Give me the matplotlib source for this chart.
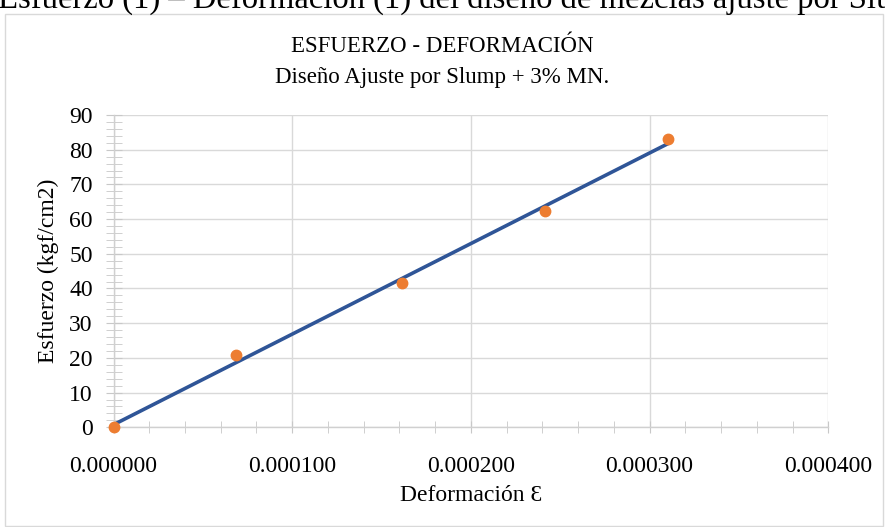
import numpy as np
import matplotlib
matplotlib.use("Agg")
import matplotlib.pyplot as plt
from matplotlib.ticker import MultipleLocator, FormatStrFormatter
from matplotlib.patches import Rectangle

# lecturas del ensayo
deformacion = [0.0, 0.0000685, 0.0001615, 0.0002417, 0.0003101]
esfuerzo = [0.0, 20.9, 41.5, 62.2, 83.2]

titulo = "ESFUERZO - DEFORMACIÓN"
subtitulo = "Diseño Ajuste por Slump + 3% MN."
leyenda_doc = "Esfuerzo (1) – Deformación (1) del diseño de mezclas ajuste por Slump"

plt.rcParams['font.family'] = ['Liberation Serif', 'DejaVu Serif']

fig = plt.figure(figsize=(8.85, 5.27), dpi=100)

# texto del documento, cortado arriba como en la captura
fig.text(-0.002, 1 - 8 / 527, leyenda_doc, fontsize=23.5, va='baseline', ha='left')

# borde del grafico
fig.patches.append(Rectangle((4.5 / 885, 1.5 / 527), 878 / 885, 512 / 527,
                             transform=fig.transFigure, fill=False,
                             edgecolor='#d9d9d9', linewidth=1))

ax = fig.add_axes([113.5 / 885, 1 - 427.3 / 527, 714.8 / 885, 312.3 / 527])

x = np.array(deformacion)
y = np.array(esfuerzo)
m, b = np.polyfit(x, y, 1)
xt = np.array([x.min(), x.max()])
ax.plot(xt, m * xt + b, color='#2F5597', linewidth=2.6, zorder=3, clip_on=False)
ax.plot(x, y, 'o', color='#ED7D31', markersize=7.5, zorder=4, clip_on=False)

ax.set_xlim(0, 0.0004)
ax.set_ylim(0, 90)
ax.xaxis.set_major_locator(MultipleLocator(0.0001))
ax.xaxis.set_minor_locator(MultipleLocator(0.00002))
ax.yaxis.set_major_locator(MultipleLocator(10))
ax.yaxis.set_minor_locator(MultipleLocator(2))
ax.xaxis.set_major_formatter(FormatStrFormatter('%.6f'))

ax.grid(True, which='major', color='#d9d9d9', linewidth=1)
ax.set_axisbelow(True)
for s in ['top', 'right']:
    ax.spines[s].set_visible(False)
for s in ['left', 'bottom']:
    ax.spines[s].set_color('#d0d0d0')
    ax.spines[s].set_linewidth(1)

ax.tick_params(which='both', direction='inout', color='#c8c8c8', labelsize=17)
ax.tick_params(axis='x', which='both', length=9, pad=16)
ax.tick_params(axis='y', which='both', length=12, pad=9)

ax.set_xlabel("Deformación Ɛ", fontsize=17, labelpad=6)
ax.set_ylabel("Esfuerzo (kgf/cm2)", fontsize=17, labelpad=7)

fig.text(0.5, 1 - 46 / 527, titulo, fontsize=16.5, ha='center', va='center')
fig.text(0.5, 1 - 77 / 527, subtitulo, fontsize=16.5, ha='center', va='center')

fig.savefig("out.png", dpi=100)
